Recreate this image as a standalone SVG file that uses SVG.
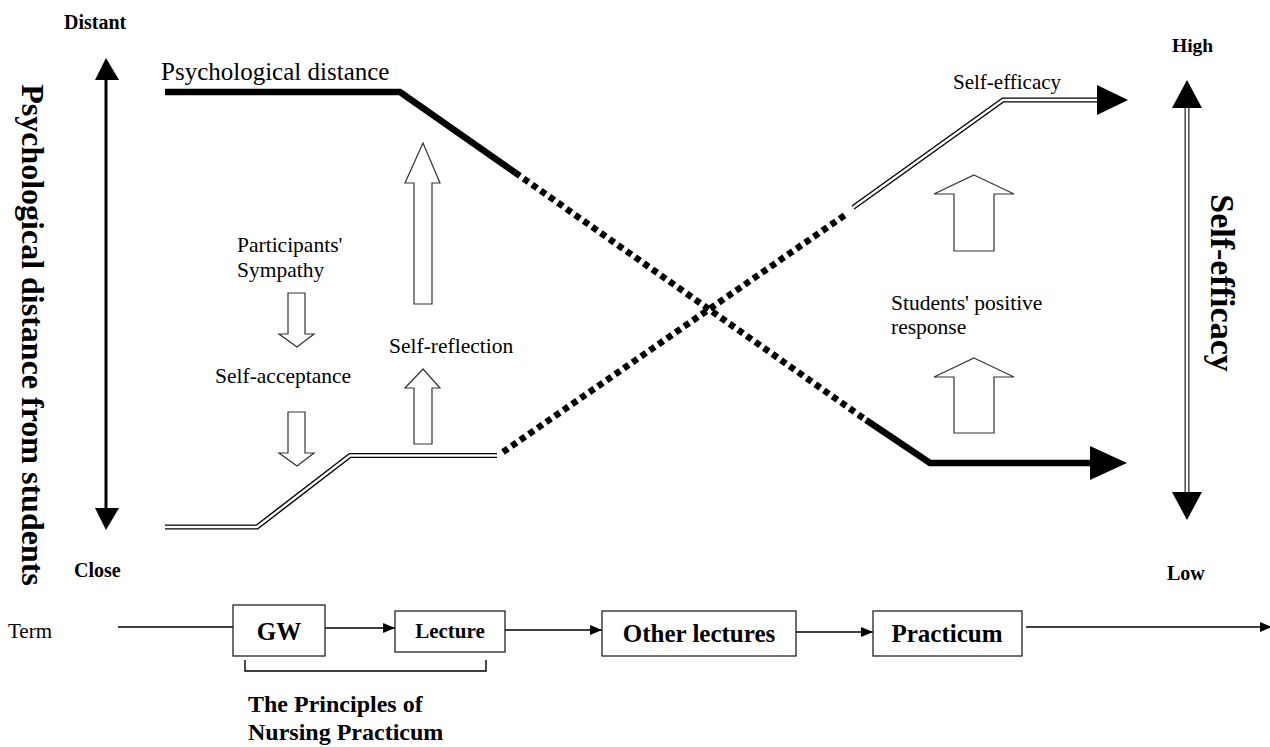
<svg xmlns="http://www.w3.org/2000/svg" width="1270" height="747" viewBox="0 0 1270 747">
<style>
.t{font-family:"Liberation Serif","Times New Roman",serif;fill:#000}
.r{font-size:21.5px}
.b{font-weight:bold}
.hol{fill:#fff;stroke:#333;stroke-width:1.2}
.thick{fill:none;stroke:#000;stroke-width:6.5;stroke-linejoin:miter}
.dots{fill:none;stroke:#000;stroke-width:6.5;stroke-dasharray:6 4.5}
.dblo{fill:none;stroke:#000;stroke-width:5.2}
.dbli{fill:none;stroke:#fff;stroke-width:2.4}
.box{fill:#fff;stroke:#222;stroke-width:1.3}
.ln{fill:none;stroke:#000;stroke-width:1.4}
</style>
<defs>
<marker id="ah" markerWidth="12" markerHeight="10" refX="12" refY="5" orient="auto" markerUnits="userSpaceOnUse">
<path d="M0,0 L12,5 L0,10 Z" fill="#000"/>
</marker>
</defs>
<rect width="1270" height="747" fill="#fff"/>

<!-- Left axis -->
<g id="left-axis">
<line x1="106" y1="78" x2="106" y2="510" stroke="#000" stroke-width="3"/>
<polygon points="106,58 119,80 95,80" fill="#000"/>
<polygon points="106,530 119,508 95,508" fill="#000"/>
<text class="t b" x="64" y="29" font-size="20">Distant</text>
<text class="t b" x="74" y="577" font-size="20">Close</text>
<text class="t b" font-size="32" text-anchor="middle" dominant-baseline="central" transform="translate(33,335) rotate(90)">Psychological distance from students</text>
</g>

<!-- Right axis -->
<g id="right-axis">
<line x1="1187" y1="106" x2="1187" y2="494" stroke="#555" stroke-width="5.2"/>
<line x1="1187" y1="106" x2="1187" y2="494" stroke="#fff" stroke-width="2"/>
<polygon points="1187,80 1202,108 1172,108" fill="#000"/>
<polygon points="1187,520 1202,492 1172,492" fill="#000"/>
<text class="t b" x="1172" y="52" font-size="19.5">High</text>
<text class="t b" x="1167" y="580" font-size="20">Low</text>
<text class="t b" font-size="34" text-anchor="middle" dominant-baseline="central" transform="translate(1222,283) rotate(90)">Self-efficacy</text>
</g>

<!-- Psychological distance line -->
<g id="psych-line">
<path class="thick" d="M165,92 L400,92 L515,172.5"/>
<path class="dots" d="M515,172.5 L866,420"/>
<path class="thick" d="M866,420 L930,463 L1092,463"/>
<polygon points="1090,446 1127,463 1090,480" fill="#000"/>
<text class="t" x="161" y="80" font-size="25">Psychological distance</text>
</g>

<!-- Self-efficacy line -->
<g id="efficacy-line">
<path class="dblo" d="M165,527 L257,527 L350,455.5 L497,455.5"/>
<path class="dbli" d="M165,527 L257,527 L350,455.5 L497,455.5"/>
<path class="dots" d="M503,452 L848,213"/>
<path class="dblo" d="M853,207.5 L1003,100 L1098,100"/>
<path class="dbli" d="M853,207.5 L1003,100 L1098,100"/>
<polygon points="1097,85 1128,100 1097,115" fill="#000"/>
<text class="t" x="953" y="89" font-size="21">Self-efficacy</text>
</g>

<!-- Hollow block arrows -->
<g id="block-arrows">
<path class="hol" d="M423,143 L440,183 L432,183 L432,304 L414,304 L414,183 L405,183 Z"/>
<path class="hol" d="M423,369 L440,388 L432,388 L432,444 L414,444 L414,388 L405,388 Z"/>
<path class="hol" d="M288,293 L305,293 L305,334 L314,334 L297,347 L279,334 L288,334 Z"/>
<path class="hol" d="M288,412 L305,412 L305,453 L314,453 L297,466 L279,453 L288,453 Z"/>
<path class="hol" d="M974,175 L1014,194 L994,194 L994,251 L954,251 L954,194 L934,194 Z"/>
<path class="hol" d="M974,358 L1014,377 L994,377 L994,433 L954,433 L954,377 L934,377 Z"/>
</g>

<!-- Labels -->
<g id="labels">
<text class="t r" x="237" y="252">Participants'</text>
<text class="t r" x="237" y="277">Sympathy</text>
<text class="t r" x="215" y="383">Self-acceptance</text>
<text class="t r" x="389" y="353">Self-reflection</text>
<text class="t r" x="891" y="310">Students' positive</text>
<text class="t r" x="891" y="334">response</text>
<text class="t" x="8" y="638" font-size="21">Term</text>
</g>

<!-- Timeline connectors -->
<g id="connectors">
<line class="ln" x1="118" y1="627" x2="233" y2="627"/>
<line class="ln" x1="325" y1="628" x2="395" y2="628" marker-end="url(#ah)"/>
<line class="ln" x1="505" y1="630" x2="602" y2="630" marker-end="url(#ah)"/>
<line class="ln" x1="796" y1="632" x2="873" y2="632" marker-end="url(#ah)"/>
<line class="ln" x1="1026" y1="627" x2="1272" y2="627" marker-end="url(#ah)"/>
<path class="ln" d="M245,660 L245,671 L486,671 L486,660" stroke="#333"/>
</g>

<!-- Timeline nodes -->
<g id="node-gw">
<rect class="box" x="233" y="605" width="92" height="51"/>
<text class="t b" x="279" y="640" font-size="25" text-anchor="middle">GW</text>
</g>
<g id="node-lecture">
<rect class="box" x="395" y="611" width="110" height="41"/>
<text class="t b" x="450" y="638" font-size="21" text-anchor="middle">Lecture</text>
</g>
<g id="node-other">
<rect class="box" x="602" y="611" width="194" height="45"/>
<text class="t b" x="699" y="642" font-size="25" text-anchor="middle">Other lectures</text>
</g>
<g id="node-practicum">
<rect class="box" x="873" y="611" width="149" height="45"/>
<text class="t b" x="947" y="642" font-size="25" text-anchor="middle">Practicum</text>
</g>
<g id="course-label">
<text class="t b" x="248" y="712" font-size="24">The Principles of</text>
<text class="t b" x="248" y="740" font-size="24">Nursing Practicum</text>
</g>
</svg>
